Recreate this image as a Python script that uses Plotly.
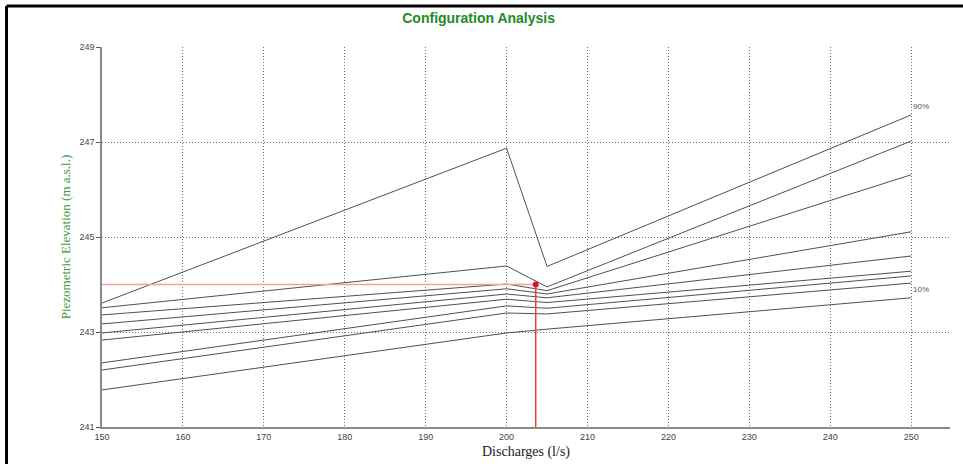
import plotly.graph_objects as go

# ---- data ----
discharges = [150, 200, 205, 250]
series_90 = [243.61, 246.87, 244.38, 247.57]
series_2 = [243.51, 244.39, 243.95, 247.02]
series_3 = [243.36, 244.01, 243.87, 246.31]
series_4 = [243.17, 243.91, 243.80, 245.11]
series_5 = [242.98, 243.80, 243.72, 244.60]
series_6 = [242.83, 243.69, 243.62, 244.28]
series_7 = [242.35, 243.55, 243.50, 244.18]
series_8 = [242.20, 243.40, 243.38, 244.03]
series_10 = [241.78, 242.98, 243.06, 243.72]
all_series = [series_90, series_2, series_3, series_4, series_5,
              series_6, series_7, series_8, series_10]
series_labels = {0: "90%", 8: "10%"}

op_discharge = 203.6
op_elevation = 244.0

x_ticks = [150, 160, 170, 180, 190, 200, 210, 220, 230, 240, 250]
y_ticks = [241, 243, 245, 247, 249]
x_range = [150, 254.8]
y_range = [241, 249]

fig = go.Figure()

for s in all_series:
    fig.add_trace(go.Scatter(x=discharges, y=s, mode="lines",
                             line=dict(color="#505050", width=1),
                             showlegend=False, hoverinfo="skip"))

# operating point guides
fig.add_trace(go.Scatter(x=[x_range[0], op_discharge], y=[op_elevation, op_elevation],
                         mode="lines", line=dict(color="#f4a0a0", width=1.5),
                         showlegend=False, hoverinfo="skip"))
fig.add_trace(go.Scatter(x=[op_discharge, op_discharge], y=[y_range[0], op_elevation],
                         mode="lines", line=dict(color="#e8403c", width=1.5),
                         showlegend=False, hoverinfo="skip"))
fig.add_trace(go.Scatter(x=[op_discharge], y=[op_elevation], mode="markers",
                         marker=dict(color="#d8141c", size=6),
                         showlegend=False, hoverinfo="skip"))

for idx, txt in series_labels.items():
    fig.add_annotation(x=discharges[-1], y=all_series[idx][-1], text=txt,
                       showarrow=False, xanchor="left", yanchor="middle",
                       xshift=0, yshift=8,
                       font=dict(family="Arial", size=8, color="#555555"))

# outer frame (left and top edges visible)
fig.add_shape(type="line", xref="paper", yref="paper",
              x0=-0.1126, x1=-0.1126, y0=-0.2, y1=1.108,
              line=dict(color="black", width=3), layer="above")
fig.add_shape(type="line", xref="paper", yref="paper",
              x0=-0.1126, x1=1.2, y0=1.108, y1=1.108,
              line=dict(color="black", width=3), layer="above")

fig.update_layout(
    width=963, height=464,
    margin=dict(l=102, r=13, t=47, b=37, autoexpand=False),
    paper_bgcolor="white", plot_bgcolor="white",
    title=dict(text="<b>Configuration Analysis</b>", x=0.497, xanchor="center",
               y=0.962, yanchor="middle",
               font=dict(family="Arial", size=14, color="#1e8a28")),
    xaxis=dict(range=x_range, tickvals=x_ticks, ticktext=[str(v) for v in x_ticks],
               automargin=False,
               showgrid=True, gridcolor="#707070", griddash="1px,2px", gridwidth=1,
               showline=True, linecolor="#8a8a8a", linewidth=2,
               zeroline=False, ticks="",
               tickfont=dict(family="Arial", size=9, color="#444444"),
               title=dict(text="Discharges (l/s)", standoff=5,
                          font=dict(family="Liberation Serif", size=14, color="#222222"))),
    yaxis=dict(range=y_range, tickvals=y_ticks, ticktext=[str(v) for v in y_ticks],
               automargin=False,
               showgrid=True, gridcolor="#707070", griddash="1px,2px", gridwidth=1,
               showline=True, linecolor="#8a8a8a", linewidth=1.5,
               zeroline=False, ticks="outside", ticklen=4, tickcolor="#555555",
               tickfont=dict(family="Arial", size=9, color="#444444"),
               title=dict(text="Piezometric Elevation (m a.s.l.)", standoff=6,
                          font=dict(family="Liberation Serif", size=13, color="#3a9a3a"))),
)

fig.write_html("out.html", config={"displayModeBar": False},
               post_script="document.body.style.margin='0';document.body.style.padding='0';document.body.style.overflow='hidden';")
